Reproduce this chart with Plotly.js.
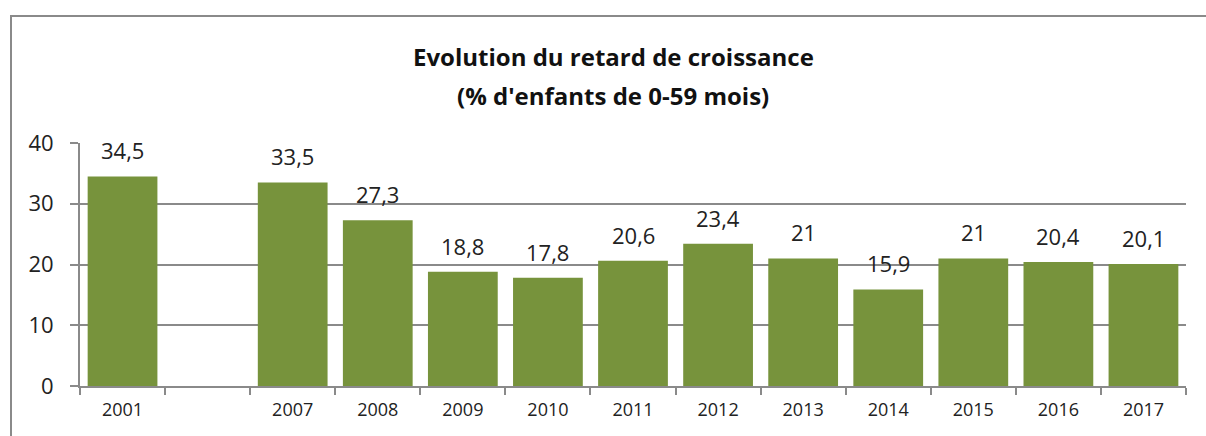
<!DOCTYPE html>
<html><head><meta charset="utf-8">
<script src="https://cdn.plot.ly/plotly-3.0.1.min.js"></script>
<style>
body{margin:0;background:#fff;overflow:hidden;}
#frame{position:absolute;left:10px;top:15px;width:1300px;height:600px;border-top:2px solid #8a8a8a;border-left:2px solid #8a8a8a;}
#chart{position:absolute;left:0;top:0;width:1206px;height:436px;}
</style></head>
<body><div id="frame"></div><div id="chart"></div>
<script>
const categories = ['2001',' ','2007','2008','2009','2010','2011','2012','2013','2014','2015','2016','2017'];
const values = [34.5,null,33.5,27.3,18.8,17.8,20.6,23.4,21,15.9,21,20.4,20.1];
const valueLabels = ['34,5','','33,5','27,3','18,8','17,8','20,6','23,4','21','15,9','21','20,4','20,1'];
const titleLines = ['Evolution du retard de croissance', "(% d'enfants de 0-59 mois)"];
const yTicks = [0,10,20,30,40];

const font = '"Open Sans", sans-serif';
const annotations = [];
values.forEach((v,i)=>{
  if(v==null) return;
  annotations.push({x:i,y:v,xref:'x',yref:'y',text:valueLabels[i],showarrow:false,
    yanchor:'bottom',yshift:9,font:{family:font,size:22,color:'#222'}});
});
annotations.push({xref:'paper',yref:'paper',x:0.482,y:1,yshift:87,yanchor:'middle',showarrow:false,
  text:'<b>'+titleLines[0]+'</b>',font:{family:font,size:24,color:'#111'}});
annotations.push({xref:'paper',yref:'paper',x:0.482,y:1,yshift:48,yanchor:'middle',showarrow:false,
  text:'<b>'+titleLines[1]+'</b>',font:{family:font,size:24,color:'#111'}});

Plotly.newPlot('chart',[{
  type:'bar',x:categories,y:values,marker:{color:'#77933C'},width:0.82,hoverinfo:'none'
}],{
  width:1206,height:436,margin:{l:80,r:20,t:143,b:50},
  paper_bgcolor:'rgba(0,0,0,0)',plot_bgcolor:'rgba(0,0,0,0)',
  showlegend:false,
  xaxis:{type:'category',categoryorder:'array',categoryarray:categories,range:[-0.5,categories.length-0.5],
    showline:true,linecolor:'#8a8a8a',linewidth:2,ticks:'outside',tickson:'boundaries',
    ticklen:7,tickcolor:'#8a8a8a',tickwidth:2,showgrid:false,
    tickfont:{family:font,size:18,color:'#222'},ticklabelstandoff:6},
  yaxis:{range:[0,40],tickvals:yTicks,showline:true,linecolor:'#8a8a8a',linewidth:2,
    ticks:'outside',ticklen:8,tickcolor:'#8a8a8a',tickwidth:2,
    gridcolor:'#8a8a8a',gridwidth:2,zeroline:false,
    tickfont:{family:font,size:22,color:'#222'},ticklabelstandoff:12},
  annotations:annotations
},{staticPlot:true});
</script></body></html>
